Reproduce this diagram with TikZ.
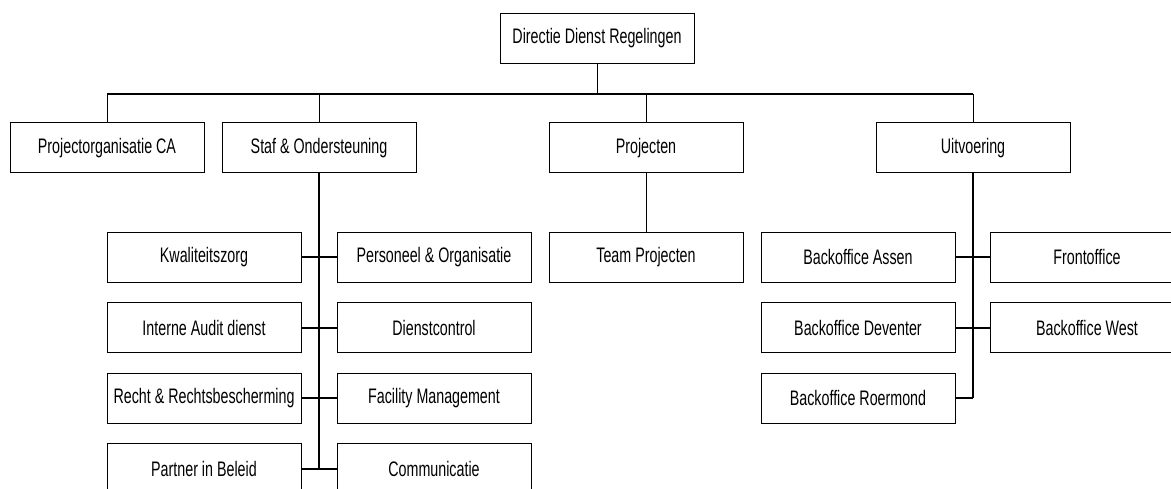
\documentclass[tikz,border=0pt]{standalone}
\usepackage{fontspec}
\setmainfont[FakeStretch=0.68]{Liberation Sans}
\usepackage{tikz}
\usetikzlibrary{calc}
\tikzset{
	unit/.style={draw=black, line width=1pt, fill=white, minimum width=194pt, minimum height=50pt, inner sep=0pt, font=\fontsize{21}{25}\selectfont},
	drop/.style={line width=1pt},
	spine/.style={line width=2pt}
}

\begin{document}
\begin{tikzpicture}[x=1pt, y=-1pt]
	\useasboundingbox (0,0) rectangle (1171,488);
	
	% top
	\node[unit] (dir) at (597,38) {Directie Dienst Regelingen};
	\coordinate (bus) at (597,94);
	
	% first level
	\node[unit] (projorg) at (107,147.7) {Projectorganisatie CA};
	\node[unit] (staf) at (319,147.7) {Staf \& Ondersteuning};
	\node[unit] (proj) at (646,147.7) {Projecten};
	\node[unit] (uitv) at (973,147.7) {Uitvoering};
	
	\draw[drop] (dir) -- (dir |- bus);
	\draw[spine] (projorg.north |- bus) -- (uitv.north |- bus);
	\foreach \n in {projorg,staf,proj,uitv}
		\draw[drop] (\n.north) -- (\n.north |- bus);
	
	% staf left
	\node[unit] (kwal) at (204,257) {Kwaliteitszorg};
	\node[unit] (audit) at (204,327.5) {Interne Audit dienst};
	\node[unit] (recht) at (204,398) {Recht \& Rechtsbescherming};
	\node[unit] (partner) at (204,468.5) {Partner in Beleid};
	
	% staf right
	\node[unit] (pers) at (434,257) {Personeel \& Organisatie};
	\node[unit] (dcontrol) at (434,327.5) {Dienstcontrol};
	\node[unit] (facility) at (434,398) {Facility Management};
	\node[unit] (comm) at (434,468.5) {Communicatie};
	
	\draw[spine] (staf.south) -- (staf.south |- partner);
	\draw[spine] (kwal) -- (pers);
	\draw[spine] (audit) -- (dcontrol);
	\draw[spine] (recht) -- (facility);
	\draw[spine] (partner) -- (comm);
	
	% projecten
	\node[unit] (teamproj) at (646,257) {Team Projecten};
	\draw[drop] (proj) -- (teamproj);
	
	% uitvoering
	\node[unit] (boassen) at (858,257) {Backoffice Assen};
	\node[unit] (bodev) at (858,327.5) {Backoffice Deventer};
	\node[unit] (boroer) at (858,398) {Backoffice Roermond};
	\node[unit] (front) at (1087,257) {Frontoffice};
	\node[unit] (bowest) at (1087,327.5) {Backoffice West};
	
	\draw[spine] (uitv.south) -- (uitv.south |- boroer);
	\draw[spine] (boassen) -- (front);
	\draw[spine] (bodev) -- (bowest);
	\draw[spine] (boroer) -- (uitv.south |- boroer);
	
\end{tikzpicture}
\end{document}
